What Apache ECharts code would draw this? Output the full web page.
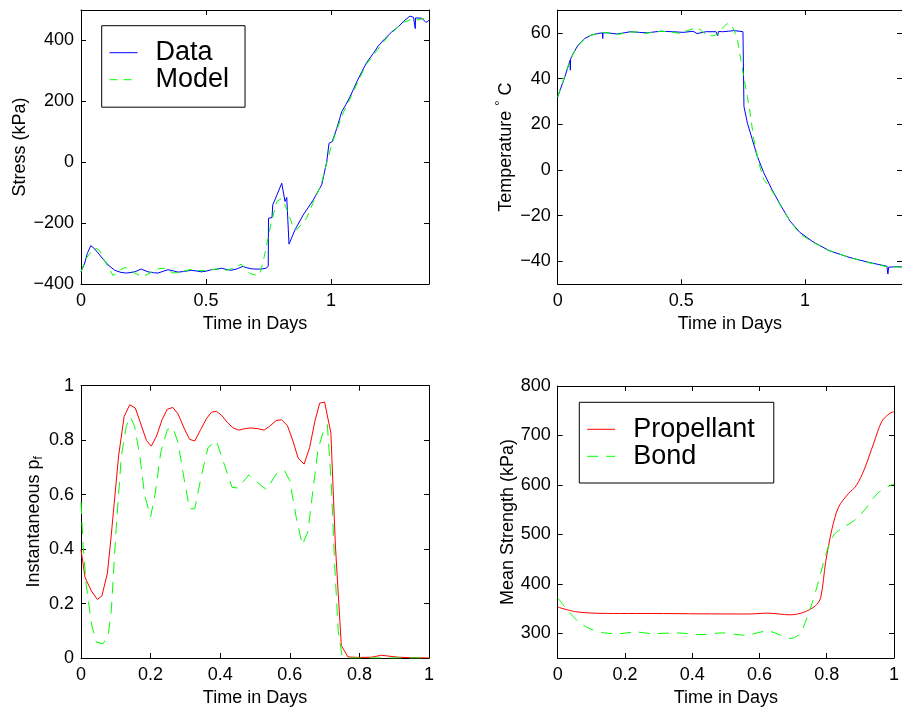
<!DOCTYPE html>
<html>
<head>
<meta charset="utf-8">
<script src="https://cdn.jsdelivr.net/npm/echarts@6/dist/echarts.min.js"></script>
<style>html,body{margin:0;padding:0;background:#fff;}#c{width:902px;height:708px;}</style>
</head>
<body>
<div id="c"></div>
<script>
// ---------- Data ----------
// Stress (top-left)
const stressDataT = [0,0.008,0.015,0.025,0.039,0.055,0.068,0.09,0.108,0.135,0.16,0.181,0.2,0.215,0.241,0.268,0.29,0.308,0.33,0.348,0.37,0.388,0.41,0.441,0.46,0.481,0.5,0.521,0.54,0.561,0.58,0.601,0.625,0.648,0.66,0.681,0.7,0.721,0.74,0.749,0.75,0.764,0.767,0.785,0.803,0.816,0.823,0.832,0.856,0.889,0.929,0.963,0.983,0.992,1.005,1.023,1.043,1.06,1.076,1.09,1.103,1.123,1.143,1.169,1.189,1.216,1.243,1.269,1.296,1.316,1.33,1.336,1.337,1.338,1.363,1.38,1.392];
const stressDataV = [-360,-362,-331,-300,-274,-285,-298,-320,-337,-355,-362,-364,-362,-360,-351,-360,-363,-364,-358,-353,-357,-361,-359,-355,-357,-360,-358,-353,-352,-348,-352,-355,-350,-342,-346,-350,-351,-351,-348,-342,-184,-182,-140,-105,-69,-129,-116,-269,-222,-173,-124,-74,2,62,68,111,166,190,215,240,264,297,328,357,382,406,428,445,467,480,476,474,439,474,473,459,466];
const stressModelT = [0,0.021,0.045,0.06,0.075,0.095,0.115,0.128,0.145,0.16,0.175,0.19,0.21,0.235,0.255,0.28,0.31,0.335,0.35,0.368,0.39,0.42,0.441,0.47,0.5,0.521,0.55,0.58,0.61,0.641,0.655,0.675,0.695,0.715,0.728,0.741,0.759,0.783,0.8,0.816,0.836,0.85,0.863,0.88,0.903,0.93,0.96,0.985,1.0,1.02,1.05,1.08,1.11,1.14,1.17,1.2,1.23,1.26,1.29,1.32,1.35,1.37,1.392];
const stressModelV = [-360,-315,-290,-283,-290,-325,-353,-372,-365,-352,-346,-350,-362,-372,-373,-362,-350,-348,-355,-364,-362,-356,-352,-356,-356,-353,-350,-355,-348,-335,-348,-365,-370,-368,-330,-277,-206,-129,-120,-140,-184,-215,-222,-205,-183,-130,-75,5,50,100,165,215,268,320,352,385,415,438,460,468,468,472,458];
const stressTicks = [-400,-200,0,200,400];

// Temperature (top-right)
const tempDataT = [0,0.029,0.05,0.051,0.052,0.063,0.082,0.109,0.135,0.162,0.181,0.182,0.183,0.2,0.241,0.295,0.33,0.361,0.414,0.467,0.507,0.547,0.563,0.6,0.64,0.647,0.65,0.667,0.69,0.713,0.749,0.753,0.767,0.787,0.807,0.833,0.866,0.899,0.939,0.979,1.032,1.098,1.178,1.257,1.331,1.335,1.338,1.372,1.392];
const tempDataV = [32,40.8,48,43.7,48.5,51,54.6,57.5,59,59.7,60,57.5,60,60,59.5,60.5,60.2,60,60.7,60.5,60.2,60.7,59.7,60.5,60.5,58.8,60.6,60.5,60.7,61,60.5,27.8,20.5,13.3,6,-1.2,-8.5,-15,-22.3,-27.3,-31.4,-35.3,-38.2,-40.4,-42.1,-45.5,-42.5,-42.3,-42.4];
const tempModelT = [0,0.025,0.05,0.075,0.1,0.13,0.16,0.19,0.22,0.25,0.28,0.32,0.35,0.38,0.42,0.46,0.49,0.52,0.55,0.575,0.6,0.625,0.645,0.665,0.685,0.7,0.713,0.727,0.74,0.753,0.767,0.78,0.793,0.813,0.833,0.86,0.88,0.9,0.94,0.98,1.03,1.1,1.18,1.26,1.33,1.392];
const tempModelV = [32,40,48,53.5,56.5,58.8,59.8,60.2,59.6,59.4,60.3,60.4,59.7,60.2,60.7,60.4,59.8,60.8,61.9,61.5,59.2,58.7,59.3,62,64,63.7,61.2,56.8,48.5,40.1,32.1,23.4,13.3,3.1,-4.1,-8,-11.5,-15.5,-22.5,-28,-31.5,-35.3,-38.3,-40.6,-42.3,-42.5];
const tempTicks = [-40,-20,0,20,40,60];

// Instantaneous pf (bottom-left)
const pfPropT = [0,0.012,0.03,0.047,0.06,0.076,0.087,0.108,0.124,0.14,0.156,0.171,0.188,0.202,0.217,0.233,0.248,0.264,0.279,0.296,0.312,0.327,0.344,0.36,0.375,0.389,0.405,0.42,0.437,0.453,0.47,0.488,0.509,0.526,0.542,0.561,0.576,0.593,0.609,0.624,0.641,0.657,0.672,0.686,0.7,0.718,0.731,0.748,0.767,0.8,0.835,0.863,0.911,0.95,1];
const pfPropV = [0.397,0.294,0.246,0.215,0.228,0.312,0.452,0.742,0.887,0.93,0.918,0.863,0.799,0.778,0.815,0.875,0.914,0.92,0.896,0.845,0.803,0.797,0.839,0.878,0.903,0.906,0.89,0.866,0.845,0.837,0.842,0.845,0.842,0.837,0.851,0.872,0.875,0.854,0.797,0.734,0.712,0.773,0.869,0.936,0.94,0.827,0.415,0.046,0.004,0.002,0.003,0.01,0.003,0.001,0];
const pfBondT = [0,0.006,0.015,0.03,0.044,0.063,0.078,0.087,0.101,0.116,0.13,0.142,0.154,0.169,0.183,0.2,0.214,0.229,0.248,0.264,0.279,0.298,0.312,0.327,0.346,0.365,0.389,0.413,0.434,0.451,0.482,0.509,0.533,0.561,0.585,0.6,0.619,0.636,0.652,0.667,0.681,0.695,0.708,0.719,0.729,0.739,0.75,0.77,0.85,1];
const pfBondV = [0.573,0.415,0.27,0.125,0.058,0.052,0.082,0.173,0.476,0.742,0.851,0.885,0.851,0.742,0.597,0.518,0.609,0.754,0.839,0.847,0.791,0.645,0.548,0.548,0.67,0.773,0.797,0.706,0.627,0.624,0.672,0.643,0.618,0.676,0.688,0.651,0.512,0.415,0.464,0.621,0.766,0.827,0.857,0.645,0.342,0.101,0.009,0,0,0];
const pfTicks = [0,0.2,0.4,0.6,0.8,1];

// Mean strength (bottom-right)
const strPropT = [0,0.05,0.107,0.184,0.28,0.423,0.567,0.624,0.691,0.73,0.766,0.782,0.797,0.816,0.835,0.864,0.888,0.912,0.94,0.964,0.988,1];
const strPropV = [353,344,340.7,340,340,339.3,339,340.7,337.3,342,355.3,372,445,512,555,582,598.7,632,685,728.7,745,748];
const strBondT = [0,0.031,0.064,0.098,0.136,0.184,0.232,0.28,0.356,0.423,0.49,0.557,0.624,0.663,0.691,0.72,0.749,0.773,0.797,0.821,0.845,0.883,0.912,0.95,0.988,1];
const strBondV = [372,345,322,308.7,301,299.3,302.7,299.3,300.7,297.3,300.7,296,304.7,296,289.3,299.3,346,398.7,458.7,498.7,512,528.7,548.7,582,598.7,602];
const strTicks = [300,400,500,600,700,800];

const xTicksTop = [0,0.5,1];
const xTicksBottom = [0,0.2,0.4,0.6,0.8,1];

// ---------- Chart ----------
const FONT = '"Liberation Sans", Arial, Helvetica, sans-serif';
const FS = 18;
const zip = (a, b) => a.map((v, i) => [v, b[i]]);
const fmt = v => String(+v.toFixed(4)).replace('-', '\u2212');

const grids = [
  {left: 81, top: 10, width: 348, height: 274},
  {left: 557.7, top: 10, width: 348, height: 274.3},
  {left: 81, top: 385.7, width: 348, height: 275.3},
  {left: 557.7, top: 386, width: 348, height: 275}
];

const lineCol = '#000';
function xAxes(gi, max, ticks) {
  const base = {
    type: 'value', gridIndex: gi, min: 0, max: max,
    splitLine: {show: false},
    axisLine: {onZero: false, lineStyle: {color: lineCol, width: 1}},
    axisTick: {inside: true, length: 5, customValues: ticks, lineStyle: {color: lineCol}},
  };
  return [
    Object.assign({}, base, {
      position: 'bottom',
      name: 'Time in Days', nameLocation: 'middle', nameGap: 31,
      nameTextStyle: {fontSize: FS, fontFamily: FONT, color: '#000'},
      axisLabel: {customValues: ticks, fontSize: FS, fontFamily: FONT, color: '#000', margin: 8, formatter: fmt}
    }),
    Object.assign({}, base, {position: 'top', axisLabel: {show: false}})
  ];
}
function yAxes(gi, min, max, ticks, name, gap, rich) {
  const base = {
    type: 'value', gridIndex: gi, min: min, max: max,
    splitLine: {show: false},
    axisLine: {onZero: false, lineStyle: {color: lineCol, width: 1}},
    axisTick: {inside: true, length: 5, customValues: ticks, lineStyle: {color: lineCol}},
  };
  const ns = {fontSize: FS, fontFamily: FONT, color: '#000'};
  if (rich) ns.rich = rich;
  return [
    Object.assign({}, base, {
      position: 'left',
      name: name, nameLocation: 'middle', nameGap: gap, nameRotate: 90,
      nameTextStyle: ns,
      axisLabel: {customValues: ticks, fontSize: FS, fontFamily: FONT, color: '#000', margin: 7, formatter: fmt}
    }),
    Object.assign({}, base, {position: 'right', axisLabel: {show: false}})
  ];
}

const richTemp = {
  t: {fontSize: FS, fontFamily: FONT, color: '#000', lineHeight: 24},
  d: {fontSize: 13, fontFamily: FONT, color: '#000', verticalAlign: 'top', lineHeight: 13}
};
const richPf = {
  t: {fontSize: FS, fontFamily: FONT, color: '#000', lineHeight: 22},
  s: {fontSize: 12, fontFamily: FONT, color: '#000', verticalAlign: 'bottom', lineHeight: 9}
};

const xAxis = [].concat(
  xAxes(0, 1.392, xTicksTop),
  xAxes(1, 1.392, xTicksTop),
  xAxes(2, 1, xTicksBottom),
  xAxes(3, 1, xTicksBottom)
);
const yAxis = [].concat(
  yAxes(0, -400, 500, stressTicks, 'Stress (kPa)', 52),
  yAxes(1, -50, 70, tempTicks, '{t|Temperature }{d|\u00b0}{t| C}', 40, richTemp),
  yAxes(2, 0, 1, pfTicks, '{t|Instantaneous p}{s|f}', 32, richPf),
  yAxes(3, 250, 800, strTicks, 'Mean Strength (kPa)', 41)
);

function line(name, xi, yi, data, color, dash, smooth) {
  return {
    name: name, type: 'line', xAxisIndex: xi, yAxisIndex: yi, data: data,
    symbol: 'none', showSymbol: false, animation: false, clip: true,
    smooth: smooth || false,
    lineStyle: {color: color, width: 1, type: dash || 'solid'},
    itemStyle: {color: color}
  };
}
const GREEN = '#00ff00';
const series = [
  line('Data', 0, 0, zip(stressDataT, stressDataV), '#0000ff'),
  line('Model', 0, 0, zip(stressModelT, stressModelV), GREEN, [8, 6]),
  line('Data ', 2, 2, zip(tempDataT, tempDataV), '#0000ff'),
  line('Model ', 2, 2, zip(tempModelT, tempModelV), GREEN, [8, 6]),
  line('Propellant ', 4, 4, zip(pfPropT, pfPropV), '#ff0000'),
  line('Bond ', 4, 4, zip(pfBondT, pfBondV), GREEN, [12, 8]),
  line('Propellant', 6, 6, zip(strPropT, strPropV), '#ff0000', null, 0.3),
  line('Bond', 6, 6, zip(strBondT, strBondV), GREEN, [11, 8], 0.3)
];
series[0].z = 3; series[2].z = 3;

const legendBase = {
  orient: 'vertical', itemGap: 0, itemWidth: 28, itemHeight: 14,
  borderColor: '#000', borderWidth: 1, backgroundColor: '#fff',
  selectedMode: false,
  itemStyle: {opacity: 0},
  lineStyle: {width: 1},
  textStyle: {fontSize: 27, fontFamily: FONT, color: '#000', lineHeight: 27, padding: [0, 0, 0, 13]}
};
const legend = [
  Object.assign({}, legendBase, {data: ['Data', 'Model'], left: 101.7, top: 25.7, padding: [13.5, 16, 14, 7.3]}),
  Object.assign({}, legendBase, {data: ['Propellant', 'Bond'], left: 579.3, top: 402.3, padding: [13.5, 19, 13.2, 7.4]})
];

const chart = echarts.init(document.getElementById('c'), null, {renderer: 'canvas'});
chart.setOption({
  animation: false,
  backgroundColor: '#fff',
  grid: grids,
  xAxis: xAxis,
  yAxis: yAxis,
  legend: legend,
  series: series
});
</script>
</body>
</html>
